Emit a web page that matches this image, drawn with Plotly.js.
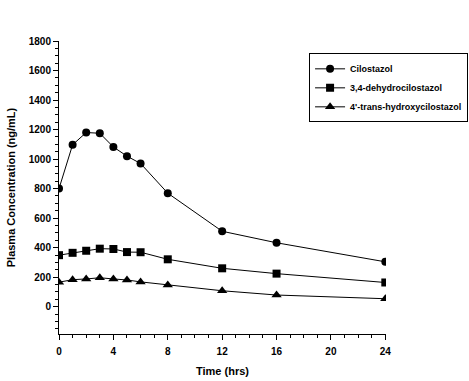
<!DOCTYPE html>
<html><head><meta charset="utf-8">
<script src="https://cdn.plot.ly/plotly-3.0.1.min.js"></script>
<style>body{margin:0;background:#fff}#c{width:469px;height:381px}</style>
</head><body><div id="c"></div>
<script>
const time = [0, 1, 2, 3, 4, 5, 6, 8, 12, 16, 24];
const cilostazol = [800, 1097, 1180, 1175, 1082, 1020, 970, 769, 511, 433, 304];
const dehydro = [349, 365, 379, 393, 391, 370, 369, 321, 260, 224, 164];
const hydroxy = [166, 183, 188, 196, 188, 181, 168, 147, 108, 79, 54];
const names = ['Cilostazol', '3,4-dehydrocilostazol', "4'-trans-hydroxycilostazol"];
const symbols = ['circle', 'square', 'triangle-up'];
const xTicks = [0, 4, 8, 12, 16, 20, 24];
const yTicks = [0, 200, 400, 600, 800, 1000, 1200, 1400, 1600, 1800];

const series = [cilostazol, dehydro, hydroxy];
const traces = series.map((s, i) => ({
  x: time, y: s, name: names[i], type: 'scatter', mode: 'lines+markers',
  line: {color: '#000', width: 1},
  marker: {symbol: symbols[i], size: i === 2 ? 9 : 8, color: '#000'}
}));

const fam = 'Liberation Sans, Arial, sans-serif';
const layout = {
  width: 469, height: 381,
  margin: {l: 59, r: 83, t: 41, b: 47, autoexpand: false},
  paper_bgcolor: '#fff', plot_bgcolor: '#fff',
  font: {family: fam, size: 10, color: '#000', weight: 'bold'},
  showlegend: true,
  legend: {xref: 'container', yref: 'container', x: 0.659, y: 0.86, xanchor: 'left', yanchor: 'top',
    bordercolor: '#000', borderwidth: 1, bgcolor: '#fff',
    font: {family: fam, size: 9, color: '#000', weight: 'bold'},
    tracegroupgap: 0, itemwidth: 30},
  xaxis: {
    range: [0, 24.05], tickvals: xTicks, ticktext: xTicks.map(String),
    showgrid: false, zeroline: false, showline: true, linecolor: '#000', linewidth: 1,
    ticks: 'outside', ticklen: 5, tickcolor: '#000', mirror: false, ticklabelstandoff: 3,
    minor: {dtick: 1, ticks: 'outside', ticklen: 3, tickcolor: '#000', showgrid: false},
    tickfont: {family: fam, size: 10, color: '#000', weight: 'bold'},
    title: {text: 'Time (hrs)', font: {family: fam, size: 11, color: '#000', weight: 'bold'}, standoff: 11}
  },
  yaxis: {
    range: [-185, 1800], tickvals: yTicks, ticktext: yTicks.map(String),
    showgrid: false, zeroline: false, showline: true, linecolor: '#000', linewidth: 1,
    ticks: 'outside', ticklen: 5, tickcolor: '#000',
    minor: {dtick: 50, ticks: 'outside', ticklen: 3, tickcolor: '#000', showgrid: false},
    tickfont: {family: fam, size: 10, color: '#000', weight: 'bold'},
    title: {text: 'Plasma Concentration (ng/mL)', font: {family: fam, size: 11, color: '#000', weight: 'bold'}, standoff: 10}
  }
};
Plotly.newPlot('c', traces, layout, {displayModeBar: false, staticPlot: true});
</script></body></html>
